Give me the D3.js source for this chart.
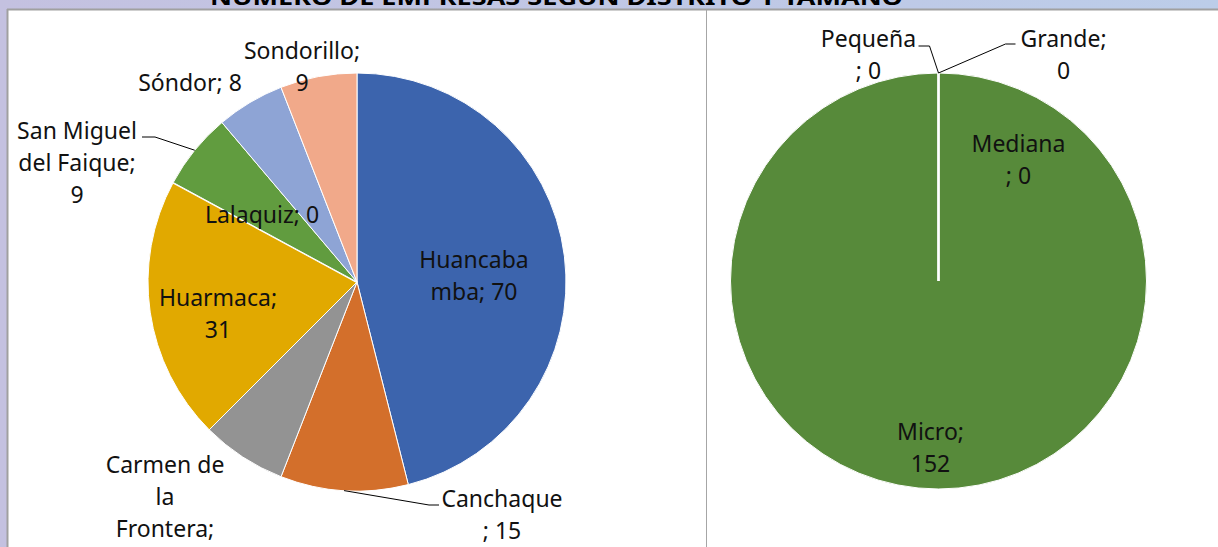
<!DOCTYPE html>
<meta charset="utf-8">
<script src="https://d3js.org/d3.v7.min.js"></script>
<style>
  body { margin: 0; }
  text { font-family: "Noto Sans", sans-serif; }
</style>
<body>
<div id="chart"></div>
<script>

// data
var titulo = "NÚMERO DE EMPRESAS SEGÚN DISTRITO Y TAMAÑO";

var distritos = ["Huancabamba", "Canchaque", "Carmen de la Frontera", "Huarmaca",
                 "Lalaquiz", "San Miguel del Faique", "Sóndor", "Sondorillo"];
var empresasDistrito = [70, 15, 10, 31, 0, 9, 8, 9];

var tamanos = ["Micro", "Mediana", "Pequeña", "Grande"];
var empresasTamano = [152, 0, 0, 0];

var coloresDistrito = ["#3c64ad", "#d36f2b", "#939393", "#e1a900",
                       "#b05a1f", "#619c3f", "#8ea4d5", "#f1a98a"];
var colorTamano = "#578a3a";

// label placement: offset of first line from pie centre, where to wrap, optional leader elbow
var etiquetas = {
  "Huancabamba":           { dx: 117, dy: -14, brk: [8] },
  "Canchaque":             { dx: 145, dy: 225, brk: [9], leader: [[72, 223], [82, 223]] },
  "Carmen de la Frontera": { dx: -192, dy: 191, brk: [9, 12, 22] },
  "Huarmaca":              { dx: -139, dy: 24, brk: [9] },
  "Lalaquiz":              { dx: -95, dy: -59, brk: [] },
  "San Miguel del Faique": { dx: -280, dy: -143, brk: [10, 22], leader: [[-202, -145], [-215, -145]] },
  "Sóndor":                { dx: -167, dy: -191, brk: [] },
  "Sondorillo":            { dx: -55, dy: -223, brk: [11] },
  "Micro":                 { dx: -8, dy: 159, brk: [6] },
  "Mediana":               { dx: 80, dy: -129, brk: [7] },
  "Pequeña":               { dx: -70, dy: -234, brk: [7], leader: [[-9, -235], [-20, -235]] },
  "Grande":                { dx: 125, dy: -234, brk: [7], leader: [[67, -237], [77, -237]] }
};

var W = 1218, H = 547;

var svg = d3.select("#chart").append("svg")
  .attr("width", W).attr("height", H);

var grad = svg.append("defs").append("linearGradient")
  .attr("id", "fondo").attr("x1", "0%").attr("x2", "100%");
grad.append("stop").attr("offset", "0%").attr("stop-color", "#c4c1e0");
grad.append("stop").attr("offset", "100%").attr("stop-color", "#bccde9");

svg.append("rect").attr("width", W).attr("height", H).attr("fill", "url(#fondo)");

svg.append("text")
  .attr("x", 210).attr("y", 5)
  .attr("textLength", 693)
  .attr("lengthAdjust", "spacingAndGlyphs")
  .style("font-size", "22px")
  .style("font-weight", "bold")
  .text(titulo);

// white chart area with grey frame
svg.append("rect").attr("x", 8).attr("y", 10).attr("width", W - 8).attr("height", H - 10)
  .attr("fill", "white");
svg.append("line").attr("x1", 7).attr("x2", W).attr("y1", 9.5).attr("y2", 9.5)
  .attr("stroke", "#a0a0a0").attr("stroke-width", 2);
svg.append("line").attr("x1", 7.5).attr("x2", 7.5).attr("y1", 9).attr("y2", H)
  .attr("stroke", "#a0a0a0").attr("stroke-width", 2);
svg.append("line").attr("x1", 706.5).attr("x2", 706.5).attr("y1", 10).attr("y2", H)
  .attr("stroke", "#a6a6a6").attr("stroke-width", 1);

function dibujarPie(cx, cy, r, nombres, valores, colores) {
  var datos = nombres.map(function(n, i) { return { nombre: n, valor: valores[i], color: colores[i] }; });
  var pie = d3.pie().sort(null).value(function(d) { return d.valor; });
  var arc = d3.arc().innerRadius(0).outerRadius(r);
  var arcos = pie(datos);

  var g = svg.append("g").attr("transform", "translate(" + cx + "," + cy + ")");

  g.selectAll("path.slice")
    .data(arcos)
    .enter().append("path")
      .attr("class", "slice")
      .attr("d", arc)
      .attr("fill", function(d) { return d.data.color; })
      .attr("stroke", "white")
      .attr("stroke-width", function(d) { return d.data.valor === 0 ? 2 : 1; });

  arcos.forEach(function(d) {
    var cfg = etiquetas[d.data.nombre];
    var txt = d.data.nombre + "; " + d.data.valor;
    var lineas = [], ini = 0;
    cfg.brk.forEach(function(b) { lineas.push(txt.slice(ini, b).trim()); ini = b; });
    lineas.push(txt.slice(ini).trim());

    if (cfg.leader) {
      var a = (d.startAngle + d.endAngle) / 2;
      var p0 = [Math.sin(a) * r, -Math.cos(a) * r];
      g.append("polyline")
        .attr("points", [p0].concat(cfg.leader).map(function(p) { return p.join(","); }).join(" "))
        .attr("fill", "none")
        .attr("stroke", "black")
        .attr("stroke-width", 1);
    }

    var t = g.append("text")
      .attr("text-anchor", "middle")
      .style("font-size", "23px")
      .attr("fill", "#111");
    lineas.forEach(function(l, i) {
      t.append("tspan").attr("x", cfg.dx).attr("y", cfg.dy + i * 32).text(l);
    });
  });
}

dibujarPie(357, 282, 209, distritos, empresasDistrito, coloresDistrito);
dibujarPie(938.5, 281, 208, tamanos, empresasTamano, tamanos.map(function() { return colorTamano; }));

</script>
</body>
